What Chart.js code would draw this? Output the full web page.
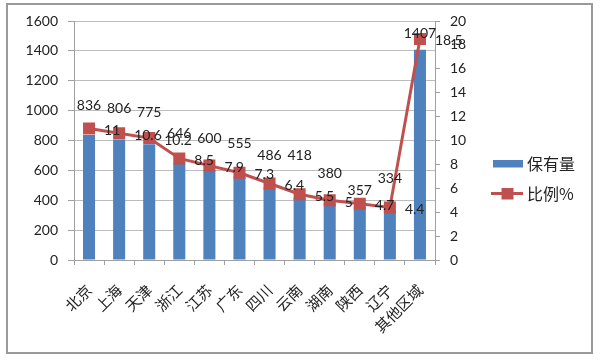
<!DOCTYPE html>
<html>
<head>
<meta charset="utf-8">
<script src="https://cdn.jsdelivr.net/npm/chart.js@4/dist/chart.umd.min.js"></script>
<style>
  html, body { margin: 0; padding: 0; background: #fff; }
  #wrap { width: 600px; height: 361px; position: relative; }
</style>
</head>
<body>
<div id="wrap"><canvas id="c" width="600" height="361"></canvas></div>
<script>
// ---- data ----
const categories = ['北京', '上海', '天津', '浙江', '江苏', '广东', '四川', '云南', '湖南', '陕西', '辽宁', '其他区域'];
const holdings = [836, 806, 775, 646, 600, 555, 486, 418, 380, 357, 334, 1407];
const ratios = [11, 10.6, 10.2, 8.5, 7.9, 7.3, 6.4, 5.5, 5, 4.7, 4.4, 18.5];
const seriesNames = ['保有量', '比例%'];
const leftTicks = [0, 200, 400, 600, 800, 1000, 1200, 1400, 1600];
const rightTicks = [0, 2, 4, 6, 8, 10, 12, 14, 16, 18, 20];

// ---- styling (not data) ----
const BLUE = '#4F81BD';
const RED = '#C0504D';
const GRID = '#bcbcbc';
const AXIS = '#a0a0a0';
const TXT = '#222222';
const NUMFONT = 'Lato, "Liberation Sans", sans-serif';
const CJKFONT = '"Noto Sans CJK SC", "Noto Sans", sans-serif';
const barLabelLift = [30, 31, 32, 30, 32, 34, 32, 42, 30, 16, 32, 16];

const labelPlugin = {
  id: 'labels',
  afterDatasetsDraw(chart) {
    const ctx = chart.ctx;
    ctx.save();
    ctx.font = '14px ' + NUMFONT;
    ctx.fillStyle = TXT;
    ctx.textBaseline = 'middle';
    const barMeta = chart.getDatasetMeta(0);
    ctx.textAlign = 'center';
    barMeta.data.forEach((el, i) => {
      ctx.fillText(String(holdings[i]), el.x, el.y - barLabelLift[i]);
    });
    const lineMeta = chart.getDatasetMeta(1);
    ctx.textAlign = 'left';
    lineMeta.data.forEach((el, i) => {
      ctx.fillText(String(ratios[i]), el.x + 15, el.y + 2);
    });
    ctx.restore();
  },
  afterDraw(chart) {
    const ctx = chart.ctx;
    ctx.save();
    // frame
    ctx.strokeStyle = '#9a9a9a';
    ctx.lineWidth = 2;
    ctx.strokeRect(7, 4, 585, 349);
    // legend
    ctx.fillStyle = BLUE;
    ctx.fillRect(493, 160, 30, 7.5);
    ctx.strokeStyle = RED;
    ctx.lineWidth = 3;
    ctx.beginPath();
    ctx.moveTo(491, 193.5);
    ctx.lineTo(523, 193.5);
    ctx.stroke();
    ctx.fillStyle = RED;
    ctx.fillRect(501.5, 188, 12, 11.5);
    ctx.fillStyle = TXT;
    ctx.font = '16px ' + CJKFONT;
    ctx.textAlign = 'left';
    ctx.textBaseline = 'middle';
    ctx.fillText(seriesNames[0], 527, 164);
    ctx.fillText(seriesNames[1], 527, 193.5);
    ctx.restore();
  }
};

new Chart(document.getElementById('c'), {
  data: {
    labels: categories,
    datasets: [
      {
        type: 'bar',
        label: seriesNames[0],
        data: holdings,
        yAxisID: 'y',
        backgroundColor: BLUE,
        borderWidth: 0,
        barPercentage: 0.4,
        categoryPercentage: 1.0,
        order: 1
      },
      {
        type: 'line',
        label: seriesNames[1],
        data: ratios,
        yAxisID: 'y1',
        borderColor: RED,
        borderWidth: 3,
        backgroundColor: RED,
        pointStyle: 'rect',
        pointRadius: 8.5,
        pointBackgroundColor: RED,
        pointBorderColor: RED,
        pointBorderWidth: 0,
        tension: 0,
        order: 0
      }
    ]
  },
  options: {
    responsive: false,
    animation: false,
    devicePixelRatio: 1,
    layout: { padding: { top: 21, left: 0, right: 0, bottom: 0 } },
    plugins: {
      legend: { display: false },
      tooltip: { enabled: false }
    },
    scales: {
      x: {
        type: 'category',
        offset: true,
        grid: { display: true, drawOnChartArea: false, drawTicks: true, tickLength: 5, offset: true, color: AXIS },
        border: { display: true, color: AXIS, width: 1 },
        ticks: {
          autoSkip: false,
          minRotation: 45,
          maxRotation: 45,
          padding: 16,
          color: TXT,
          font: { family: CJKFONT, size: 15 }
        },
        afterFit(scale) { scale.height = 101; }
      },
      y: {
        type: 'linear',
        position: 'left',
        min: 0,
        max: 1600,
        afterBuildTicks(scale) { scale.ticks = leftTicks.map(v => ({ value: v })); },
        grid: { color: GRID, drawTicks: true, tickLength: 6, tickColor: AXIS },
        border: { display: true, color: AXIS, width: 1 },
        ticks: { padding: 10, color: TXT, font: { family: NUMFONT, size: 14 }, callback: v => String(v) },
        afterFit(scale) { scale.width = 74; }
      },
      y1: {
        type: 'linear',
        position: 'right',
        min: 0,
        max: 20,
        afterBuildTicks(scale) { scale.ticks = rightTicks.map(v => ({ value: v })); },
        grid: { drawOnChartArea: false, drawTicks: true, tickLength: 5, color: AXIS },
        border: { display: true, color: AXIS, width: 1 },
        ticks: { padding: 10, color: TXT, font: { family: NUMFONT, size: 14 }, callback: v => String(v) },
        afterFit(scale) { scale.width = 165; }
      }
    }
  },
  plugins: [labelPlugin]
});
</script>
</body>
</html>
